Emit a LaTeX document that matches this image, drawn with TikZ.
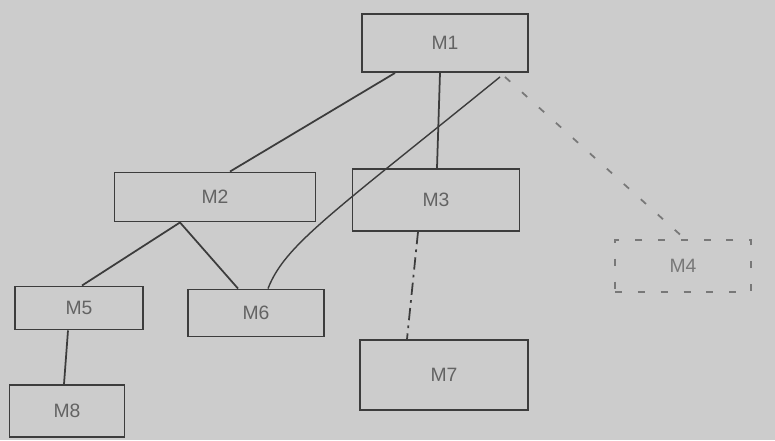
\documentclass[tikz,border=0pt]{standalone}
\usepackage{fontspec}
\setsansfont{Liberation Sans}
\usepackage{xcolor}
\usepackage{tikz}
\usetikzlibrary{calc}
\definecolor{paper}{RGB}{204,204,204}
\definecolor{pencil}{RGB}{60,60,60}
\definecolor{faint}{RGB}{120,120,120}

\begin{document}
\begin{tikzpicture}[x=0.02cm,y=-0.02cm,
  box/.style={draw=pencil,line width=1.1pt,font=\sffamily\fontsize{11}{12}\selectfont,
  text=pencil!80},
  ghost/.style={box,draw=faint,dashed,dash pattern=on 4pt off 9pt,text=faint},
  wire/.style={pencil,line width=1pt},
  dotted wire/.style={faint,line width=1pt,dash pattern=on 4pt off 9pt}]
\fill[paper] (0,0) rectangle (775,440);
\useasboundingbox (0,0) rectangle (775,440);
\node[box,minimum width=3.32cm,minimum height=1.16cm] (m1) at (445,43) {M1};
\node[box,minimum width=4.02cm,minimum height=0.98cm] (m2) at (215,197) {M2};
\node[box,minimum width=3.34cm,minimum height=1.24cm] (m3) at (436,200) {M3};
\node[ghost,minimum width=2.72cm,minimum height=1.04cm] (m4) at (683,266) {M4};
\node[box,minimum width=2.56cm,minimum height=0.86cm] (m5) at (79,308) {M5};
\node[box,minimum width=2.72cm,minimum height=0.94cm] (m6) at (256,313) {M6};
\node[box,minimum width=3.36cm,minimum height=1.40cm] (m7) at (444,375) {M7};
\node[box,minimum width=2.30cm,minimum height=1.04cm] (m8) at (67,411) {M8};
\draw[wire] ($(m1.south)+(-50,0)$) -- ($(m2.north)+(15,0)$);
\draw[wire] ($(m1.south)+(-5,0)$) -- ($(m3.north)+(1,0)$);
\draw[wire,line width=0.8pt] ($(m1.south)+(55,4)$) .. controls (330,215) and (285,245) .. ($(m6.north)+(12,0)$);
\draw[dotted wire] ($(m1.south)+(60,4)$) -- ($(m4.north)+(2,0)$);
\draw[wire] ($(m2.south)+(-35,0)$) -- ($(m5.north)+(3,0)$);
\draw[wire] ($(m2.south)+(-35,0)$) -- ($(m6.north)+(-18,0)$);
\draw[wire,dash pattern=on 7pt off 3pt on 1.5pt off 3pt] ($(m3.south)+(-18,0)$) -- ($(m7.north)+(-37,0)$);
\draw[wire] ($(m5.south)+(-11,0)$) -- ($(m8.north)+(-3,0)$);
\end{tikzpicture}
\end{document}
